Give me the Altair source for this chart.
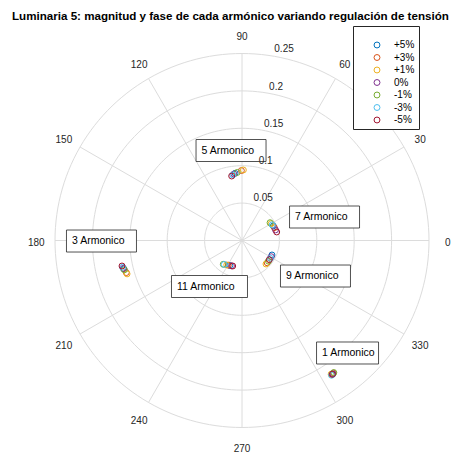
import altair as alt
import pandas as pd
import numpy as np

# ---------------- data ----------------
TITLE = "Luminaria 5: magnitud y fase de cada armónico variando regulación de tensión"

series = ["+5%", "+3%", "+1%", "0%", "-1%", "-3%", "-5%"]
series_colors = ["#0072BD", "#D95319", "#EDB120", "#7E2F8E", "#77AC30", "#4DBEEE", "#A2142F"]

harmonics = ["1", "3", "5", "7", "9", "11"]

# magnitude / phase (deg) per harmonic, in the order of `series`
mag_h1 = [0.2160, 0.2152, 0.2148, 0.2157, 0.2150, 0.2163, 0.2158]
phase_h1 = [304.1, 304.6, 303.7, 304.3, 304.8, 303.6, 304.0]
mag_h3 = [0.1625, 0.1605, 0.1600, 0.1630, 0.1620, 0.1635, 0.1640]
phase_h3 = [193.5, 195.5, 196.2, 193.2, 194.0, 192.6, 192.0]
mag_h5 = [0.0903, 0.0935, 0.0943, 0.0895, 0.0912, 0.0885, 0.0873]
phase_h5 = [95.9, 90.5, 88.9, 97.0, 94.0, 98.0, 99.1]
mag_h7 = [0.0461, 0.0466, 0.0450, 0.0470, 0.0444, 0.0455, 0.0478]
phase_h7 = [24.9, 21.5, 30.0, 17.5, 32.4, 27.5, 13.8]
mag_h9 = [0.0445, 0.0450, 0.0449, 0.0447, 0.0449, 0.0448, 0.0446]
phase_h9 = [334.2, 318.5, 315.6, 331.0, 322.0, 328.0, 325.0]
mag_h11 = [0.0372, 0.0377, 0.0385, 0.0367, 0.0405, 0.0398, 0.0363]
phase_h11 = [244.0, 241.0, 238.0, 247.5, 231.8, 233.5, 250.0]

mags = [mag_h1, mag_h3, mag_h5, mag_h7, mag_h9, mag_h11]
phases = [phase_h1, phase_h3, phase_h5, phase_h7, phase_h9, phase_h11]

ring_ticks = [0.05, 0.10, 0.15, 0.20, 0.25]
spoke_angles = [30, 60, 90, 120, 150, 180]
angle_ticks = [0, 30, 60, 90, 120, 150, 180, 210, 240, 270, 300, 330]

label_text = ["1 Armonico", "3 Armonico", "5 Armonico", "7 Armonico", "9 Armonico", "11 Armonico"]
label_x = [0.1070, -0.2273, -0.0541, 0.0709, 0.0588, -0.0869]
label_y = [-0.1504, -0.0007, 0.1203, 0.0314, -0.0475, -0.0615]
label_box_w = [62, 70, 70, 70, 70, 76]  # box widths in px

# ---------------- geometry ----------------
PX = 748.0             # pixels per magnitude unit
CX, CY = 242.0, 240.5  # polar centre on the page
W, H = 453, 449
M = 8
RMAX = max(ring_ticks)

x_dom = [(M - CX) / PX, (M + W - CX) / PX]
y_dom = [(CY - M - H) / PX, (CY - M) / PX]
xs = alt.Scale(domain=x_dom, nice=False, zero=False)
ys = alt.Scale(domain=y_dom, nice=False, zero=False)

GRID = "#dcdcdc"
FONT = "Liberation Sans"

# rings
ring_rows = []
for r in ring_ticks:
    for a in range(0, 361, 2):
        ring_rows.append({"r": r, "a": a})
rings = alt.Chart(pd.DataFrame(ring_rows)).transform_calculate(
    x="datum.r*cos(datum.a*PI/180)", y="datum.r*sin(datum.a*PI/180)"
).mark_line(stroke=GRID, strokeWidth=1).encode(
    x=alt.X("x:Q", scale=xs, axis=None),
    y=alt.Y("y:Q", scale=ys, axis=None),
    detail="r:N",
    order="a:Q",
)

# spokes
spokes = alt.Chart(pd.DataFrame({"a": spoke_angles})).transform_calculate(
    x=f"-{RMAX}*cos(datum.a*PI/180)", y=f"-{RMAX}*sin(datum.a*PI/180)",
    x2=f"{RMAX}*cos(datum.a*PI/180)", y2=f"{RMAX}*sin(datum.a*PI/180)",
).mark_rule(stroke=GRID, strokeWidth=1).encode(
    x=alt.X("x:Q", scale=xs, axis=None), y=alt.Y("y:Q", scale=ys, axis=None),
    x2="x2:Q", y2="y2:Q",
)

# angle labels
ang_lbl = alt.Chart(pd.DataFrame({"a": angle_ticks})).transform_calculate(
    x=f"{1.1*RMAX}*cos(datum.a*PI/180)", y=f"{1.1*RMAX}*sin(datum.a*PI/180)",
    t="''+datum.a",
).mark_text(fontSize=10, font=FONT, color="#262626", align="center", baseline="middle", dy=2.5).encode(
    x=alt.X("x:Q", scale=xs, axis=None), y=alt.Y("y:Q", scale=ys, axis=None), text="t:N",
)

# ring labels at 82 deg
ring_lbl = alt.Chart(pd.DataFrame({"r": ring_ticks})).transform_calculate(
    x=f"(datum.r+{RMAX/5/20})*cos(82*PI/180)", y=f"(datum.r+{RMAX/5/20})*sin(82*PI/180)",
    t="format(datum.r, '.2~f')",
).mark_text(fontSize=10, font=FONT, color="#262626", align="left", baseline="bottom", dx=6, dy=1).encode(
    x=alt.X("x:Q", scale=xs, axis=None), y=alt.Y("y:Q", scale=ys, axis=None), text="t:N",
)

# annotation boxes
lab_df = pd.DataFrame({"t": label_text, "x": label_x, "y": label_y, "w": label_box_w})
boxes = alt.Chart(lab_df).transform_calculate(
    bx1=f"datum.x-5.5/{PX}", bx2=f"datum.x+(datum.w-5.5)/{PX}",
    by1=f"datum.y-11/{PX}", by2=f"datum.y+11/{PX}",
).mark_rect(fill="white", stroke="#262626", strokeWidth=0.8).encode(
    x=alt.X("bx1:Q", scale=xs, axis=None), x2="bx2:Q",
    y=alt.Y("by1:Q", scale=ys, axis=None), y2="by2:Q",
)
box_txt = alt.Chart(lab_df).mark_text(fontSize=10.5, font=FONT, color="black", align="left", baseline="middle").encode(
    x=alt.X("x:Q", scale=xs, axis=None), y=alt.Y("y:Q", scale=ys, axis=None), text="t:N",
)

# points
rows = []
for si, s in enumerate(series):
    for hi, h in enumerate(harmonics):
        rows.append({"serie": s, "order": si, "armonico": h, "mag": mags[hi][si], "fase": phases[hi][si]})
pts_df = pd.DataFrame(rows)
points = alt.Chart(pts_df).transform_calculate(
    x="datum.mag*cos(datum.fase*PI/180)", y="datum.mag*sin(datum.fase*PI/180)",
).mark_point(shape="circle", filled=False, size=35, strokeWidth=1, opacity=1).encode(
    x=alt.X("x:Q", scale=xs, axis=None), y=alt.Y("y:Q", scale=ys, axis=None),
    color=alt.Color("serie:N", scale=alt.Scale(domain=series, range=series_colors),
                    legend=alt.Legend(orient="none", legendX=353 - M, legendY=26 - M, title=" ",
                                      titleFontSize=8, titlePadding=2,
                                      padding=4, strokeColor="#262626", fillColor="white",
                                      symbolType="circle", symbolSize=35, symbolStrokeWidth=1,
                                      labelFontSize=10, labelFont=FONT, labelColor="black",
                                      rowPadding=2.5, symbolOffset=15, labelOffset=12)),
    order="order:Q",
)

# title
title = alt.Chart(pd.DataFrame({"t": [TITLE], "x": [(12 - CX) / PX], "y": [(CY - 16.5) / PX]})).mark_text(
    fontSize=11.6, font=FONT, fontWeight="bold", color="black", align="left", baseline="middle"
).encode(x=alt.X("x:Q", scale=xs, axis=None), y=alt.Y("y:Q", scale=ys, axis=None), text="t:N")

chart = alt.layer(rings, spokes, ang_lbl, boxes, ring_lbl, box_txt, points, title).properties(
    width=W, height=H, padding=0, autosize=alt.AutoSizeParams(type="none"),
).configure(background="white").configure_view(stroke=None)

chart.save("out.html", embed_options={"renderer": "svg", "actions": False})
